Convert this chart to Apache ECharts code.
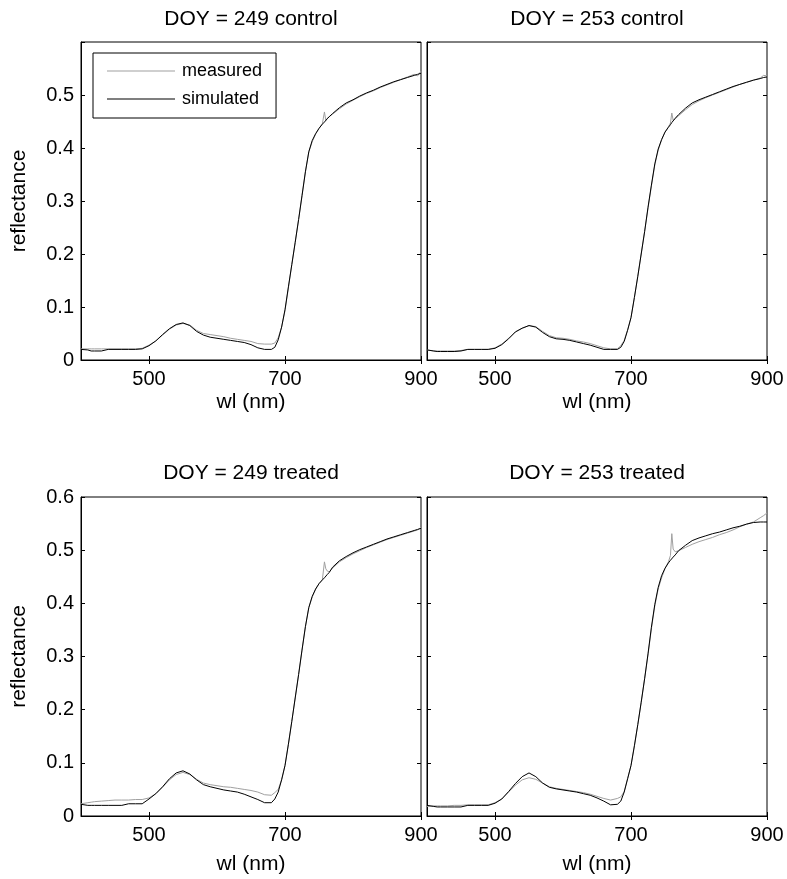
<!DOCTYPE html>
<html><head><meta charset="utf-8">
<script src="https://cdn.jsdelivr.net/npm/echarts@6/dist/echarts.min.js"></script>
<style>html,body{margin:0;padding:0;background:#fff}#c{width:787px;height:879px}</style>
</head><body><div id="c"></div>
<script>
// wavelength grid (nm)
const wl = [400,410,415,420,430,440,450,460,470,480,
            490,500,510,520,530,540,550,560,570,580,
            590,600,610,620,630,640,650,660,670,680,
            685,690,695,700,705,710,715,720,725,730,
            735,740,745,750,755,758,760,762,765,770,
            780,790,800,810,820,830,840,850,860,870,880,890,895,900];

const xTicks = [500, 700, 900];

// DOY 249 control
const simTL = [0.020,0.019,0.017,0.017,0.017,0.020,0.020,0.020,0.020,0.020,
               0.021,0.027,0.036,0.048,0.059,0.067,0.070,0.065,0.054,0.047,
               0.043,0.041,0.039,0.037,0.035,0.033,0.029,0.023,0.020,0.020,
               0.024,0.038,0.062,0.095,0.138,0.180,0.222,0.265,0.310,0.355,
               0.393,0.414,0.427,0.437,0.445,0.449,0.452,0.455,0.459,0.465,
               0.476,0.485,0.491,0.498,0.504,0.509,0.515,0.520,0.525,0.529,0.533,0.537,0.539,0.541];
const measTL = [0.021,0.021,0.021,0.021,0.021,0.021,0.021,0.021,0.021,0.021,
                0.022,0.028,0.036,0.047,0.058,0.066,0.069,0.066,0.056,0.050,
                0.048,0.046,0.044,0.041,0.039,0.037,0.035,0.031,0.030,0.030,
                0.032,0.042,0.062,0.093,0.136,0.180,0.222,0.265,0.310,0.355,
                0.392,0.412,0.426,0.437,0.446,0.468,0.452,0.456,0.459,0.464,
                0.474,0.483,0.490,0.497,0.503,0.508,0.514,0.519,0.524,0.529,0.534,0.539,0.536,0.545];

// DOY 253 control
const simTR = [0.019,0.017,0.016,0.016,0.016,0.016,0.017,0.020,0.020,0.020,
               0.020,0.022,0.029,0.040,0.053,0.060,0.065,0.062,0.052,0.044,
               0.040,0.039,0.037,0.034,0.031,0.028,0.024,0.020,0.020,0.020,
               0.024,0.035,0.056,0.080,0.118,0.158,0.200,0.242,0.288,0.330,
               0.370,0.398,0.416,0.430,0.439,0.444,0.448,0.451,0.456,0.463,
               0.475,0.485,0.491,0.496,0.501,0.506,0.511,0.516,0.520,0.524,0.528,0.531,0.533,0.534];
const measTR = [0.019,0.017,0.017,0.017,0.017,0.017,0.018,0.020,0.020,0.020,
                0.020,0.023,0.030,0.041,0.053,0.060,0.065,0.063,0.054,0.046,
                0.042,0.041,0.039,0.036,0.034,0.031,0.027,0.023,0.021,0.021,
                0.027,0.037,0.057,0.080,0.118,0.158,0.200,0.242,0.286,0.328,
                0.368,0.396,0.415,0.430,0.440,0.447,0.466,0.452,0.455,0.461,
                0.472,0.482,0.489,0.495,0.500,0.505,0.510,0.515,0.520,0.524,0.528,0.532,0.537,0.536];

// DOY 249 treated
const simBL = [0.022,0.020,0.020,0.020,0.020,0.020,0.020,0.020,0.023,0.023,
               0.023,0.032,0.042,0.055,0.070,0.081,0.085,0.079,0.068,0.059,
               0.055,0.052,0.049,0.047,0.045,0.041,0.036,0.031,0.025,0.025,
               0.032,0.045,0.068,0.095,0.135,0.178,0.222,0.266,0.312,0.356,
               0.392,0.413,0.427,0.437,0.444,0.448,0.451,0.454,0.458,0.468,
               0.480,0.488,0.495,0.501,0.506,0.511,0.516,0.521,0.525,0.529,0.533,0.537,0.539,0.541];
const measBL = [0.023,0.025,0.026,0.027,0.028,0.029,0.030,0.030,0.030,0.031,
                0.031,0.034,0.042,0.054,0.068,0.078,0.082,0.078,0.069,0.062,
                0.059,0.057,0.055,0.054,0.052,0.050,0.048,0.045,0.040,0.039,
                0.044,0.050,0.068,0.095,0.135,0.178,0.222,0.266,0.312,0.356,
                0.392,0.412,0.426,0.437,0.445,0.478,0.465,0.461,0.459,0.466,
                0.478,0.486,0.493,0.499,0.505,0.510,0.515,0.520,0.524,0.528,0.532,0.536,0.538,0.543];

// DOY 253 treated
const simBR = [0.020,0.018,0.017,0.017,0.017,0.017,0.017,0.020,0.020,0.020,
               0.020,0.024,0.032,0.046,0.061,0.074,0.081,0.074,0.062,0.054,
               0.051,0.049,0.047,0.045,0.042,0.039,0.034,0.028,0.021,0.022,
               0.028,0.045,0.070,0.095,0.132,0.172,0.214,0.258,0.305,0.355,
               0.398,0.430,0.452,0.466,0.476,0.481,0.484,0.487,0.491,0.499,
               0.509,0.518,0.523,0.527,0.531,0.534,0.538,0.542,0.545,0.549,0.552,0.553,0.553,0.553];
const measBR = [0.018,0.019,0.019,0.019,0.019,0.020,0.020,0.021,0.021,0.021,
                0.021,0.025,0.032,0.045,0.058,0.068,0.072,0.069,0.062,0.055,
                0.052,0.050,0.048,0.046,0.044,0.041,0.037,0.033,0.030,0.033,
                0.036,0.046,0.070,0.095,0.132,0.172,0.214,0.258,0.303,0.352,
                0.395,0.427,0.448,0.465,0.478,0.490,0.531,0.502,0.497,0.499,
                0.505,0.511,0.516,0.520,0.524,0.529,0.533,0.538,0.544,0.549,0.553,0.561,0.565,0.570];

const titles = ['DOY = 249 control','DOY = 253 control','DOY = 249 treated','DOY = 253 treated'];

const FONT = '"Liberation Sans", Arial, Helvetica, sans-serif';
const panels = [
  {title: titles[0], meas: measTL, sim: simTL, left: 81,  top: 42,  w: 340, h: 318, yLab: true,  top06: false, xGap: 32, tOff: 33},
  {title: titles[1], meas: measTR, sim: simTR, left: 427, top: 42,  w: 340, h: 318, yLab: false, top06: false, xGap: 32, tOff: 33},
  {title: titles[2], meas: measBL, sim: simBL, left: 81,  top: 497, w: 340, h: 319, yLab: true,  top06: true,  xGap: 38, tOff: 34},
  {title: titles[3], meas: measBR, sim: simBR, left: 427, top: 497, w: 340, h: 319, yLab: false, top06: true,  xGap: 38, tOff: 34}
];

const txt = (size) => ({fontFamily: FONT, fontSize: size, color: '#000', fontWeight: 'normal'});
const GRAY = '#a0a0a0';

const option = {
  animation: false,
  backgroundColor: '#fff',
  title: [], grid: [], xAxis: [], yAxis: [], series: [],
  legend: {
    show: true, left: 93, top: 53, orient: 'vertical',
    data: [{name: 'measured', icon: 'rect'}, {name: 'simulated', icon: 'rect'}],
    itemWidth: 68, itemHeight: 1, itemGap: 8,
    padding: [8, 14, 9, 14],
    borderColor: '#000', borderWidth: 1, borderRadius: 0,
    backgroundColor: '#fff',
    selectedMode: false,
    textStyle: Object.assign(txt(18), {lineHeight: 20, padding: [0, 0, 0, 2]})
  }
};

panels.forEach((p, i) => {
  option.grid.push({left: p.left, top: p.top, width: p.w, height: p.h, show: true,
    borderColor: '#000', borderWidth: 1, backgroundColor: 'transparent'});
  option.title.push({text: p.title, left: p.left + p.w / 2, top: p.top - p.tOff, textAlign: 'center',
    padding: 0, textStyle: txt(21)});
  // bottom x
  option.xAxis.push({type: 'value', gridIndex: i, min: 400, max: 900, position: 'bottom',
    name: 'wl (nm)', nameLocation: 'middle', nameGap: p.xGap, nameTextStyle: txt(21),
    axisLine: {show: true, onZero: false, lineStyle: {color: '#000', width: 1}},
    axisTick: {show: true, inside: true, length: 4, customValues: xTicks, lineStyle: {color: '#000'}},
    axisLabel: {show: true, customValues: xTicks, margin: 9, ...txt(20)},
    splitLine: {show: false}});
  // top x (ticks only)
  option.xAxis.push({type: 'value', gridIndex: i, min: 400, max: 900, position: 'top',
    axisLine: {show: false},
    axisTick: {show: true, inside: true, length: 4, customValues: xTicks, lineStyle: {color: '#000'}},
    axisLabel: {show: false}, splitLine: {show: false}});
  // left y
  option.yAxis.push({type: 'value', gridIndex: i, min: 0, max: 0.6, interval: 0.1, position: 'left',
    name: p.yLab ? 'reflectance' : '', nameLocation: 'middle', nameGap: 51, nameRotate: 90,
    nameTextStyle: txt(21),
    axisLine: {show: true, onZero: false, lineStyle: {color: '#000', width: 1}},
    axisTick: {show: true, inside: true, length: 4, lineStyle: {color: '#000'}},
    axisLabel: {show: p.yLab, margin: 7, ...txt(20),
      formatter: (v) => {
        if (Math.abs(v) < 1e-9) return '0';
        if (!p.top06 && Math.abs(v - 0.6) < 1e-9) return '';
        return v.toFixed(1);
      }},
    splitLine: {show: false}});
  // right y (ticks only)
  option.yAxis.push({type: 'value', gridIndex: i, min: 0, max: 0.6, interval: 0.1, position: 'right',
    axisLine: {show: false},
    axisTick: {show: true, inside: true, length: 4, lineStyle: {color: '#000'}},
    axisLabel: {show: false}, splitLine: {show: false}});

  option.series.push({type: 'line', name: 'measured', xAxisIndex: 2 * i, yAxisIndex: 2 * i,
    data: wl.map((x, k) => [x, p.meas[k]]), symbol: 'none', showSymbol: false, silent: true,
    lineStyle: {color: GRAY, width: 1}, itemStyle: {color: GRAY}, z: 2});
  option.series.push({type: 'line', name: 'simulated', xAxisIndex: 2 * i, yAxisIndex: 2 * i,
    data: wl.map((x, k) => [x, p.sim[k]]), symbol: 'none', showSymbol: false, silent: true,
    lineStyle: {color: '#000', width: 1}, itemStyle: {color: '#000'}, z: 3});
});

const chart = echarts.init(document.getElementById('c'), null, {renderer: 'canvas'});
chart.setOption(option);
</script>
</body></html>
